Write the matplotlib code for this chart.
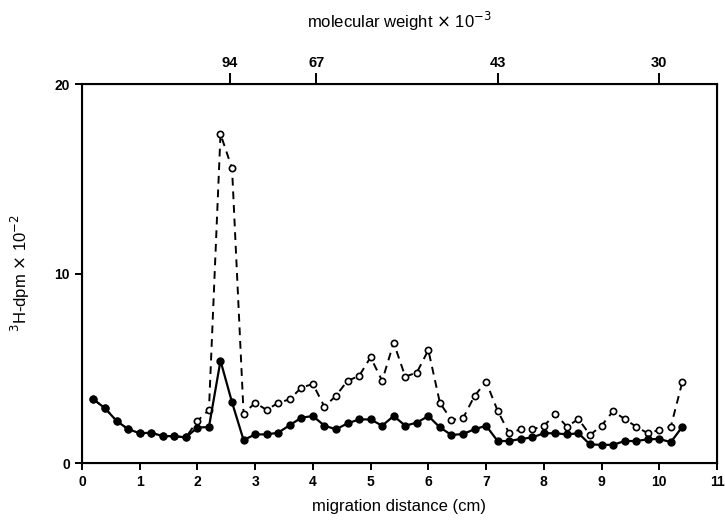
import matplotlib.pyplot as plt

# migration distance (cm), fractions every 0.2 cm
dist = [round(0.2 * i, 1) for i in range(1, 53)]

filled = [3.36, 2.89, 2.22, 1.79, 1.57, 1.60, 1.42, 1.42, 1.35, 1.87,
          1.90, 5.40, 3.20, 1.21, 1.51, 1.51, 1.60, 2.00, 2.39, 2.48,
          1.97, 1.78, 2.09, 2.30, 2.30, 1.97, 2.48, 1.97, 2.13, 2.48,
          1.88, 1.48, 1.53, 1.78, 1.97, 1.16, 1.16, 1.27, 1.35, 1.57,
          1.57, 1.51, 1.57, 0.98, 0.96, 0.96, 1.16, 1.16, 1.25, 1.27,
          1.10, 1.92]

opened = [3.36, 2.89, 2.22, 1.79, 1.57, 1.60, 1.42, 1.42, 1.35, 2.22,
          2.80, 17.36, 15.55, 2.59, 3.18, 2.80, 3.18, 3.36, 3.98, 4.17,
          2.97, 3.55, 4.34, 4.59, 5.58, 4.34, 6.35, 4.56, 4.77, 5.96,
          3.18, 2.27, 2.36, 3.54, 4.29, 2.76, 1.57, 1.78, 1.78, 1.95,
          2.59, 1.92, 2.32, 1.48, 1.97, 2.74, 2.32, 1.92, 1.57, 1.74,
          1.92, 4.29]

mw_labels = ["94", "67", "43", "30"]
mw_pos = [2.56, 4.06, 7.21, 10.0]

plt.rcParams['font.family'] = ['Liberation Sans', 'DejaVu Sans']

fig = plt.figure(figsize=(7.25, 5.22), dpi=100)
ax = fig.add_axes([0.113, 0.113, 0.876, 0.726])

ax.plot(dist, opened, '--', color='black', lw=1.4, dashes=(4, 3),
        marker='o', ms=4.5, mfc='white', mec='black', mew=1.2)
ax.plot(dist, filled, '-', color='black', lw=1.6,
        marker='o', ms=5, mfc='black', mec='black')

ax.set_xlim(0, 11)
ax.set_ylim(0, 20)
ax.set_xticks(range(0, 12))
ax.set_yticks([0, 10, 20])
ax.tick_params(direction='out', width=1.4, length=5, labelsize=10)
for lab in ax.get_xticklabels() + ax.get_yticklabels():
    lab.set_fontweight('bold')
for s in ax.spines.values():
    s.set_linewidth(1.5)

ax.set_xlabel("migration distance (cm)", fontsize=12, labelpad=7)
ax.set_ylabel(r"$^3$H-dpm $\times$ 10$^{-2}$", fontsize=12, labelpad=16)

top = ax.twiny()
top.set_xlim(0, 11)
top.set_xticks(mw_pos)
top.set_xticklabels(mw_labels, fontweight='bold')
top.tick_params(direction='out', width=1.4, length=8, pad=2, labelsize=10.5)
top.set_xlabel(r"molecular weight $\times$ 10$^{-3}$", fontsize=12, labelpad=20)

fig.savefig("out.png", dpi=100)
